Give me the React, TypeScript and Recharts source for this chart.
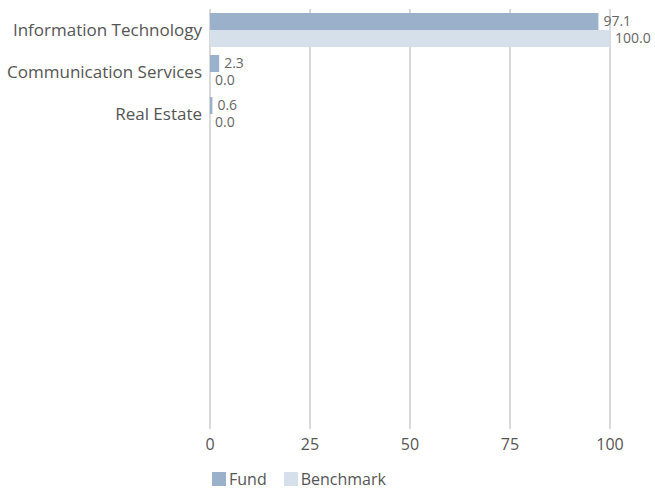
import { BarChart, Bar, XAxis, YAxis, CartesianGrid, LabelList, Legend } from "recharts";

const sectors = [
  "Information Technology",
  "Communication Services",
  "Real Estate",
  "",
  "",
  "",
  "",
  "",
  "",
  "",
];
const fund = [97.1, 2.3, 0.6, null, null, null, null, null, null, null];
const benchmark = [100.0, 0.0, 0.0, null, null, null, null, null, null, null];
const xTicks = [0, 25, 50, 75, 100];

const seriesColors = { fund: "#9bb1cb", benchmark: "#d5e0eb" };

const chartData = sectors.map((name, i) => ({
  name,
  fund: fund[i],
  benchmark: benchmark[i],
}));

const fmt = (v: any) => (v === null || v === undefined ? "" : Number(v).toFixed(1));

function LegendBox() {
  const items = [
    { label: "Fund", color: seriesColors.fund },
    { label: "Benchmark", color: seriesColors.benchmark },
  ];
  return (
    <div
      style={{
        display: "flex",
        height: 30,
        paddingTop: 5,
        boxSizing: "border-box",
        paddingLeft: 212,
        gap: 17,
        fontSize: 16,
        lineHeight: "20px",
        color: "#555",
      }}
    >
      {items.map((it) => (
        <div key={it.label} style={{ display: "flex", alignItems: "center" }}>
          <span style={{ width: 14, height: 14, background: it.color, display: "inline-block", marginRight: 3 }} />
          {it.label}
        </div>
      ))}
    </div>
  );
}

export default function App() {
  return (
    <div style={{ fontFamily: "'Open Sans', sans-serif" }}>
      <style>{"body{margin:0;overflow:hidden}"}</style>
      <BarChart
        width={655}
        height={491}
        data={chartData}
        layout="vertical"
        margin={{ top: 9, right: 45, bottom: 0, left: 0 }}
        barCategoryGap={4}
        barGap={0}
      >
        <CartesianGrid horizontal={false} stroke="#b3b3b3" />
        <XAxis
          type="number"
          domain={[0, 100]}
          ticks={xTicks}
          axisLine={false}
          tickLine={false}
          tickMargin={4}
          height={32}
          tick={{ fontSize: 16, fill: "#555" }}
        />
        <YAxis
          type="category"
          dataKey="name"
          width={210}
          axisLine={false}
          tickLine={false}
          interval={0}
          tick={{ fontSize: 17, fill: "#555" }}
        />
        <Legend verticalAlign="bottom" height={30} content={() => <LegendBox />} />
        <Bar dataKey="fund" name="Fund" fill={seriesColors.fund} minPointSize={0.01} isAnimationActive={false}>
          <LabelList dataKey="fund" position="right" offset={5} formatter={fmt} style={{ fontSize: 14, fill: "#666" }} />
        </Bar>
        <Bar dataKey="benchmark" name="Benchmark" fill={seriesColors.benchmark} minPointSize={0.01} isAnimationActive={false}>
          <LabelList dataKey="benchmark" position="right" offset={5} formatter={fmt} style={{ fontSize: 14, fill: "#666" }} />
        </Bar>
      </BarChart>
    </div>
  );
}
